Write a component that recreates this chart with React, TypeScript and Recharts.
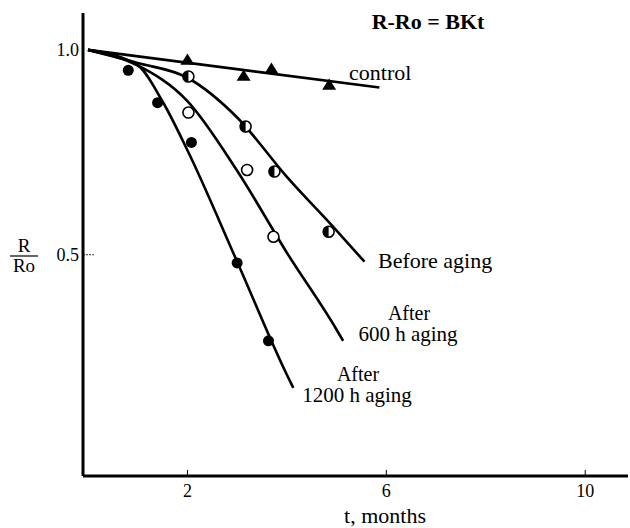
import React from "react";
import {
  ComposedChart,
  Line,
  Scatter,
  XAxis,
  YAxis,
  ReferenceLine,
} from "recharts";

// ---- data ----
const xTicks = [2, 6, 10];
const yTicks = [0.5, 1.0];

const controlLine = [
  { t: 0, r: 1.0 },
  { t: 5.86, r: 0.908 },
];
const controlPoints = [
  { t: 2.0, r: 0.974 },
  { t: 3.13, r: 0.935 },
  { t: 3.69, r: 0.952 },
  { t: 4.85, r: 0.913 },
];

const beforeLine = [
  { t: 0, r: 1.0 },
  { t: 1, r: 0.968 },
  { t: 2, r: 0.932 },
  { t: 3, r: 0.835 },
  { t: 4, r: 0.69 },
  { t: 5, r: 0.559 },
  { t: 5.56, r: 0.483 },
];
const beforePoints = [
  { t: 2.02, r: 0.935 },
  { t: 3.17, r: 0.813 },
  { t: 3.75, r: 0.703 },
  { t: 4.84, r: 0.556 },
];

const after600Line = [
  { t: 0, r: 1.0 },
  { t: 1, r: 0.962 },
  { t: 2, r: 0.875 },
  { t: 3, r: 0.705 },
  { t: 4, r: 0.505 },
  { t: 5, r: 0.317 },
  { t: 5.13, r: 0.29 },
];
const after600Points = [
  { t: 2.02, r: 0.847 },
  { t: 3.2, r: 0.707 },
  { t: 3.73, r: 0.544 },
];

const after1200Line = [
  { t: 0, r: 1.0 },
  { t: 1, r: 0.962 },
  { t: 1.5, r: 0.874 },
  { t: 2, r: 0.755 },
  { t: 3, r: 0.483 },
  { t: 4, r: 0.207 },
  { t: 4.13, r: 0.175 },
];
const after1200Points = [
  { t: 0.81, r: 0.95 },
  { t: 1.4, r: 0.871 },
  { t: 2.08, r: 0.774 },
  { t: 3.0, r: 0.48 },
  { t: 3.63, r: 0.29 },
];

const FONT = "'Liberation Serif', 'Times New Roman', serif";

const Triangle = (props: any) => {
  const { cx, cy } = props;
  const s = 7;
  return (
    <path
      d={`M${cx},${cy - s} L${cx + s},${cy + s * 0.6} L${cx - s},${cy + s * 0.6} Z`}
      fill="#000"
    />
  );
};

const HalfCircle = (props: any) => {
  const { cx, cy } = props;
  const r = 5.5;
  return (
    <g>
      <circle cx={cx} cy={cy} r={r} fill="#fff" stroke="#000" strokeWidth={1.6} />
      <path
        d={`M${cx},${cy - r} A${r},${r} 0 0 0 ${cx},${cy + r} Z`}
        fill="#000"
      />
    </g>
  );
};

const OpenCircle = (props: any) => {
  const { cx, cy } = props;
  return <circle cx={cx} cy={cy} r={5.5} fill="#fff" stroke="#000" strokeWidth={1.6} />;
};

const FilledCircle = (props: any) => {
  const { cx, cy } = props;
  return <circle cx={cx} cy={cy} r={5.5} fill="#000" />;
};

const XTick = (props: any) => {
  const { x, y, payload } = props;
  return (
    <text x={x} y={y} dy="0.71em" textAnchor="middle" fontFamily={FONT} fontSize={18} fill="#000">
      {payload.value}
    </text>
  );
};

const YTick = (props: any) => {
  const { x, y, payload } = props;
  return (
    <text x={x} y={y} dy="0.35em" textAnchor="end" fontFamily={FONT} fontSize={18} fill="#000">
      {Number(payload.value).toFixed(1)}
    </text>
  );
};

export default function App() {
  return (
    <div style={{ position: "absolute", left: 0, top: 0, width: 630, height: 528, background: "#fff", fontFamily: FONT }}>
      <ComposedChart
        width={630}
        height={528}
        margin={{ top: 13, right: 2, bottom: 0, left: 0 }}
        style={{ fontFamily: FONT }}
      >
        <XAxis
          dataKey="t"
          type="number"
          domain={[-0.1, 10.86]}
          ticks={xTicks}
          allowDataOverflow
          axisLine={{ stroke: "#000", strokeWidth: 3 }}
          tickLine={false}
          tickSize={0}
          tickMargin={8}
          tick={<XTick />}
          height={52}
        />
        <YAxis
          dataKey="r"
          type="number"
          domain={[-0.04, 1.09]}
          ticks={yTicks}
          allowDataOverflow
          axisLine={{ stroke: "#000", strokeWidth: 3 }}
          tickLine={false}
          tickSize={0}
          tickMargin={4}
          tick={<YTick />}
          width={83}
        />
        {xTicks.map((v) => (
          <ReferenceLine
            key={"xt" + v}
            segment={[
              { x: v, y: -0.04 },
              { x: v, y: -0.025 },
            ]}
            stroke="#000"
            strokeWidth={1}
          />
        ))}
        <ReferenceLine
          segment={[
            { x: -0.1, y: 0.5 },
            { x: 0.12, y: 0.5 },
          ]}
          stroke="#000"
          strokeWidth={0.8}
          strokeDasharray="2 1"
        />
        <Line
          data={controlLine}
          dataKey="r"
          type="linear"
          stroke="#000"
          strokeWidth={2.6}
          dot={false}
          isAnimationActive={false}
        />
        <Line
          data={beforeLine}
          dataKey="r"
          type="monotone"
          stroke="#000"
          strokeWidth={2.6}
          dot={false}
          isAnimationActive={false}
        />
        <Line
          data={after600Line}
          dataKey="r"
          type="monotone"
          stroke="#000"
          strokeWidth={2.6}
          dot={false}
          isAnimationActive={false}
        />
        <Line
          data={after1200Line}
          dataKey="r"
          type="monotone"
          stroke="#000"
          strokeWidth={2.6}
          dot={false}
          isAnimationActive={false}
        />
        <Scatter data={controlPoints} dataKey="r" shape={Triangle} isAnimationActive={false} />
        <Scatter data={beforePoints} dataKey="r" shape={HalfCircle} isAnimationActive={false} />
        <Scatter data={after600Points} dataKey="r" shape={OpenCircle} isAnimationActive={false} />
        <Scatter data={after1200Points} dataKey="r" shape={FilledCircle} isAnimationActive={false} />
      </ComposedChart>
      <svg
        width={630}
        height={528}
        style={{ position: "absolute", left: 0, top: 0, pointerEvents: "none" }}
        fontFamily={FONT}
      >
        <text x={428} y={29} textAnchor="middle" fontSize={22} fontWeight="bold">
          R-Ro = BKt
        </text>
        <text x={349} y={80} fontSize={22}>
          control
        </text>
        <text x={378} y={268} fontSize={22}>
          Before aging
        </text>
        <text x={409} y={320} textAnchor="middle" fontSize={20}>
          After
        </text>
        <text x={408} y={341} textAnchor="middle" fontSize={21}>
          600 h aging
        </text>
        <text x={358} y={381} textAnchor="middle" fontSize={20}>
          After
        </text>
        <text x={357} y={402} textAnchor="middle" fontSize={21}>
          1200 h aging
        </text>
        <text x={385} y={523} textAnchor="middle" fontSize={22}>
          t, months
        </text>
        <text x={24} y={252} textAnchor="middle" fontSize={19}>
          R
        </text>
        <line x1={10} y1={256} x2={38} y2={256} stroke="#000" strokeWidth={1.2} />
        <text x={24} y={272} textAnchor="middle" fontSize={19}>
          Ro
        </text>
      </svg>
    </div>
  );
}
